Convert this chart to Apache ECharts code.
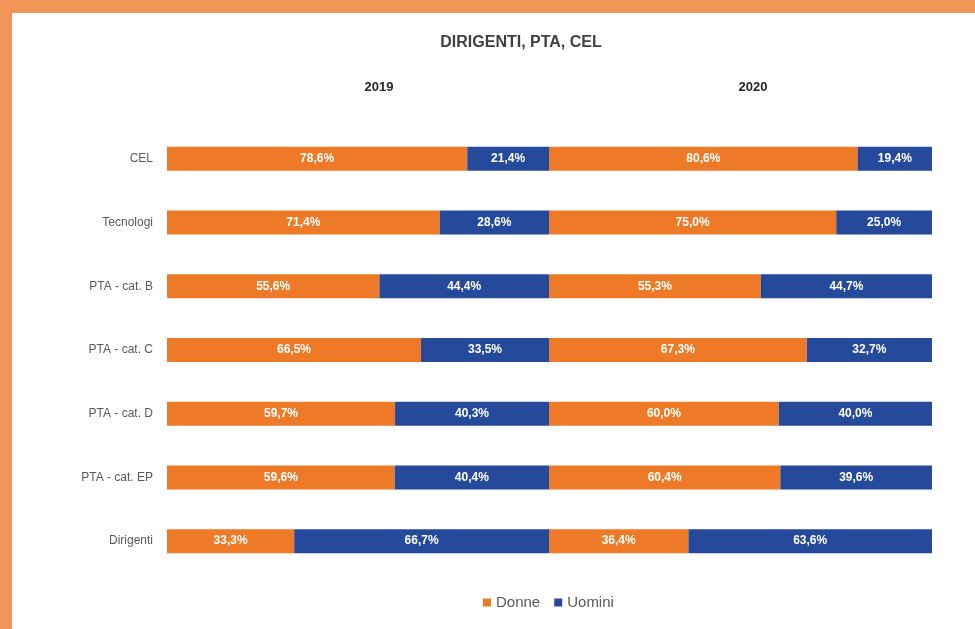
<!DOCTYPE html>
<html>
<head>
<meta charset="utf-8">
<script src="https://cdn.jsdelivr.net/npm/echarts@6/dist/echarts.min.js"></script>
<style>
html,body{margin:0;padding:0;background:#F29559;}
#chart{width:975px;height:629px;}
</style>
</head>
<body>
<div id="chart"></div>
<script>
const categories = ['CEL','Tecnologi','PTA - cat. B','PTA - cat. C','PTA - cat. D','PTA - cat. EP','Dirigenti'];
const years = ['2019','2020'];
const donne2019 = [78.6, 71.4, 55.6, 66.5, 59.7, 59.6, 33.3];
const uomini2019 = [21.4, 28.6, 44.4, 33.5, 40.3, 40.4, 66.7];
const donne2020 = [80.6, 75.0, 55.3, 67.3, 60.0, 60.4, 36.4];
const uomini2020 = [19.4, 25.0, 44.7, 32.7, 40.0, 39.6, 63.6];

const ORANGE = '#EE7A27';
const BLUE = '#254A9B';
const FONT = '"Liberation Sans", Arial, sans-serif';

const chart = echarts.init(document.getElementById('chart'), null, {renderer:'canvas'});

const fmt = p => p.value.toFixed(1).replace('.', ',') + '%';
const label = {show:true, position:'inside', color:'#fff', fontWeight:'bold', fontSize:12, fontFamily:FONT, formatter:fmt};

function bar(name, data, idx, color){
  return {name:name, type:'bar', stack:'s'+idx, xAxisIndex:idx, yAxisIndex:idx, data:data,
    barWidth:24, itemStyle:{color:color}, label:label, emphasis:{disabled:true}};
}

const grids = [{left:167, width:382, top:127, height:446}, {left:549, width:383, top:127, height:446}];

chart.setOption({
  animation:false,
  textStyle:{fontFamily:FONT},
  graphic:[
    {type:'rect', z:-10, shape:{x:12, y:13, width:963, height:616}, style:{fill:'#ffffff'}},
    {type:'text', left:null, x:521, y:43, style:{text:'DIRIGENTI, PTA, CEL', fill:'#404040', font:'bold 16px '+FONT, textAlign:'center', textVerticalAlign:'middle'}},
    {type:'text', x:379, y:87, style:{text:years[0], fill:'#262626', font:'bold 13px '+FONT, textAlign:'center', textVerticalAlign:'middle'}},
    {type:'text', x:753, y:87, style:{text:years[1], fill:'#262626', font:'bold 13px '+FONT, textAlign:'center', textVerticalAlign:'middle'}}
  ],
  legend:{data:['Donne','Uomini'], left:'center', top:590, itemWidth:8, itemHeight:8, icon:'rect', itemGap:14,
    textStyle:{color:'#595959', fontSize:15, fontFamily:FONT}, left:478},
  grid:grids,
  xAxis:[0,1].map(i => ({type:'value', gridIndex:i, min:0, max:100, show:false})),
  yAxis:[0,1].map(i => ({type:'category', gridIndex:i, data:categories, inverse:true,
    axisLine:{show:false}, axisTick:{show:false},
    axisLabel:{show:i===0, color:'#595959', fontSize:12, fontFamily:FONT, margin:14}})),
  series:[
    bar('Donne', donne2019, 0, ORANGE),
    bar('Uomini', uomini2019, 0, BLUE),
    bar('Donne', donne2020, 1, ORANGE),
    bar('Uomini', uomini2020, 1, BLUE)
  ]
});
</script>
</body>
</html>
